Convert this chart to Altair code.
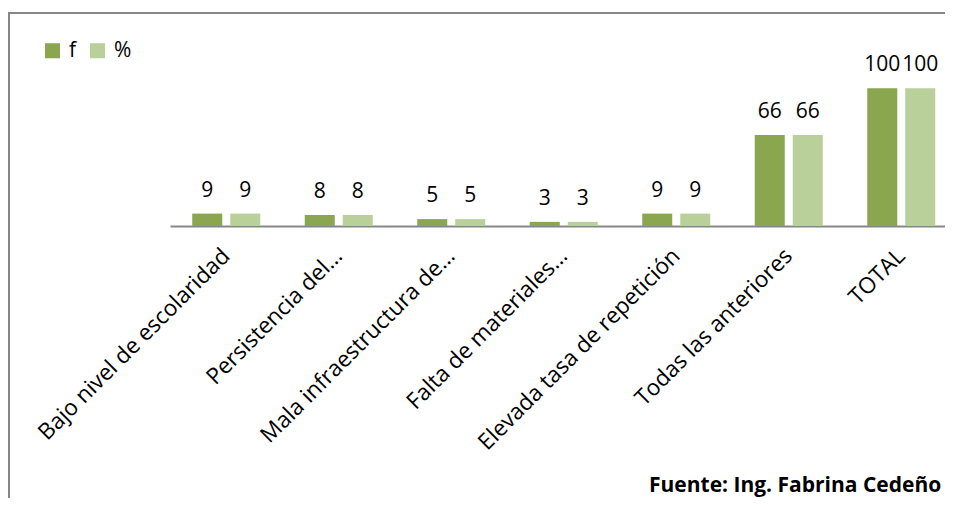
import altair as alt
import pandas as pd

categories = ["Bajo nivel de escolaridad", "Persistencia del…", "Mala infraestructura de…",
              "Falta de materiales…", "Elevada tasa de repetición", "Todas las anteriores", "TOTAL"]
f_values = [9, 8, 5, 3, 9, 66, 100]
pct_values = [9, 8, 5, 3, 9, 66, 100]
series = ["f", "%"]
colors = ["#8AA64F", "#B9D09A"]
source_note = "Fuente: Ing. Fabrina Cedeño"

rows = []
for c, a, b in zip(categories, f_values, pct_values):
    rows.append({"cat": c, "series": "f", "value": a})
    rows.append({"cat": c, "series": "%", "value": b})
df = pd.DataFrame(rows)

FONT = "Open Sans"

x_enc = alt.X("cat:N", sort=categories, title=None,
              scale=alt.Scale(range=[0, 787.5], paddingInner=0.3956, paddingOuter=0.1978),
              axis=alt.Axis(labelAngle=-45, labelAlign="right", labelBaseline="middle",
                            labelPadding=26, labelFontSize=22.5, labelFont=FONT, labelColor="#000000",
                            ticks=False, domainColor="#878787", domainWidth=2, labelLimit=400))
xo_enc = alt.XOffset("series:N", sort=series,
                     scale=alt.Scale(paddingInner=0.2105, paddingOuter=0))
y_enc = alt.Y("value:Q", scale=alt.Scale(domain=[0, 142.3], nice=False), axis=None)

bars = alt.Chart(df).mark_bar().encode(
    x=x_enc, xOffset=xo_enc, y=y_enc,
    color=alt.Color("series:N", sort=series,
                    scale=alt.Scale(domain=series, range=colors),
                    legend=alt.Legend(title=None, orient="none", legendX=-128, legendY=10,
                                      direction="horizontal", symbolType="square",
                                      symbolSize=225, symbolStrokeWidth=0,
                                      labelFontSize=21, labelFont=FONT, labelColor="#000000",
                                      columnPadding=10, labelOffset=6))
)

labels = alt.Chart(df).mark_text(baseline="alphabetic", dy=-17, fontSize=21, font=FONT,
                                 color="#000000").encode(
    x=x_enc, xOffset=xo_enc, y=y_enc, text=alt.Text("value:Q")
)

frame_v = alt.Chart(alt.Data(values=[{}])).mark_rule(color="#878787", strokeWidth=2).encode(
    x=alt.value(-161), y=alt.value(-17), y2=alt.value(480))
frame_h = alt.Chart(alt.Data(values=[{}])).mark_rule(color="#878787", strokeWidth=2).encode(
    x=alt.value(-162), x2=alt.value(800), y=alt.value(-17))
footer = alt.Chart(alt.Data(values=[{"t": source_note}])).mark_text(
    align="left", baseline="alphabetic", fontSize=21, font=FONT, fontWeight="bold",
    color="#000000").encode(x=alt.value(479), y=alt.value(462), text="t:N")

chart = alt.layer(bars, labels, frame_v, frame_h, footer).properties(
    width=775, height=196,
    autosize=alt.AutoSizeParams(type="none"),
    padding={"left": 162, "top": 22, "right": 0, "bottom": 272},
    background="white",
).configure_view(stroke=None)

chart.save("out.html", embed_options={"renderer": "svg", "actions": False})
